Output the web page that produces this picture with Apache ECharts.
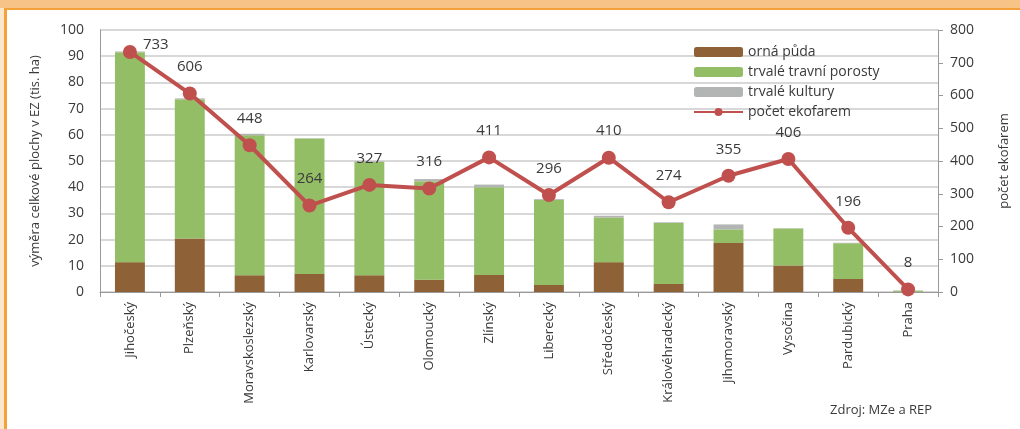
<!DOCTYPE html>
<html>
<head>
<meta charset="utf-8">
<script src="https://cdn.jsdelivr.net/npm/echarts@6/dist/echarts.min.js"></script>
<style>
  html, body { margin: 0; padding: 0; background: #fff; }
  #chart { width: 1020px; height: 429px; }
</style>
</head>
<body>
<div id="chart"></div>
<script>
const kraje = ['Jihočeský', 'Plzeňský', 'Moravskoslezský', 'Karlovarský', 'Ústecký', 'Olomoucký', 'Zlínský', 'Liberecký', 'Středočeský', 'Královéhradecký', 'Jihomoravský', 'Vysočina', 'Pardubický', 'Praha']
const ornaPuda = [11.4, 20.4, 6.4, 6.9, 6.4, 4.7, 6.5, 2.7, 11.4, 3.1, 18.7, 10.1, 5.0, 0.1]
const travniPorosty = [80.1, 53.2, 53.4, 51.7, 43.2, 37.6, 33.5, 32.5, 17.0, 23.2, 5.2, 14.1, 13.6, 0.4]
const trvaleKultury = [0.3, 0.3, 0.6, 0.1, 0.3, 0.8, 1.0, 0.3, 0.7, 0.3, 1.9, 0.1, 0.2, 0.1]
const pocetEkofarem = [733, 606, 448, 264, 327, 316, 411, 296, 410, 274, 355, 406, 196, 8]

const font = 'Open Sans'
const txt = '#3a3a3a'

const chart = echarts.init(document.getElementById('chart'))

const option = {
  animation: false,
  textStyle: {fontFamily: font},
  graphic: [
    {type: 'rect', shape: {x: 0, y: 0, width: 1020, height: 8}, style: {fill: '#F8C387'}},
    {type: 'rect', shape: {x: 4, y: 8, width: 1016, height: 2}, style: {fill: '#F5A13A'}},
    {type: 'rect', shape: {x: 0, y: 8, width: 4, height: 421}, style: {fill: '#FDE7CC'}},
    {type: 'rect', shape: {x: 4, y: 8, width: 3, height: 421}, style: {fill: '#F5A13A'}},
    {type: 'text', left: 830, top: 404, style: {text: 'Zdroj: MZe a REP', fill: txt, font: '13px "Open Sans"'}}
  ],
  grid: {
    left: 100,
    right: 82,
    top: 30,
    bottom: 137
  },
  legend: {
    orient: 'vertical',
    left: 688,
    top: 40,
    itemWidth: 49,
    itemHeight: 10,
    itemGap: 6,
    textStyle: {color: txt, fontSize: 14, fontFamily: font},
    data: ['orná půda', 'trvalé travní porosty', 'trvalé kultury', 'počet ekofarem']
  },
  xAxis: {
    type: 'category',
    data: kraje,
    axisLine: {lineStyle: {color: '#999', width: 1}},
    axisTick: {show: true, length: 5, interval: 0, lineStyle: {color: '#999'}},
    axisLabel: {rotate: 90, interval: 0, color: txt, fontSize: 13, margin: 10}
  },
  yAxis: [
    {
      type: 'value',
      min: 0,
      max: 100,
      interval: 10,
      name: 'výměra celkové plochy v EZ (tis. ha)',
      nameLocation: 'middle',
      nameGap: 58,
      nameTextStyle: {color: txt, fontSize: 13},
      axisLine: {show: true, lineStyle: {color: '#999'}},
      axisTick: {show: false},
      axisLabel: {color: txt, fontSize: 14, margin: 16},
      splitLine: {lineStyle: {color: '#CBCBCB', width: 1.5}}
    },
    {
      type: 'value',
      min: 0,
      max: 800,
      interval: 100,
      name: 'počet ekofarem',
      nameLocation: 'middle',
      nameGap: 60,
      nameTextStyle: {color: txt, fontSize: 13},
      axisLine: {show: true, lineStyle: {color: '#999'}},
      axisTick: {show: true, length: 5, lineStyle: {color: '#999'}},
      axisLabel: {color: txt, fontSize: 14, margin: 12},
      splitLine: {show: false}
    }
  ],
  series: [
    {
      name: 'orná půda',
      type: 'bar',
      stack: 'plocha',
      barWidth: '50%',
      data: ornaPuda,
      itemStyle: {color: '#8F6136'}
    },
    {
      name: 'trvalé travní porosty',
      type: 'bar',
      stack: 'plocha',
      data: travniPorosty,
      itemStyle: {color: '#93BE65'}
    },
    {
      name: 'trvalé kultury',
      type: 'bar',
      stack: 'plocha',
      data: trvaleKultury,
      itemStyle: {color: '#B3B5B5'}
    },
    {
      name: 'počet ekofarem',
      type: 'line',
      yAxisIndex: 1,
      data: pocetEkofarem.map((v, i) => i === 0
        ? {value: v, label: {position: 'right', distance: 6, offset: [0, -7]}}
        : v),
      symbol: 'circle',
      symbolSize: 14,
      z: 5,
      lineStyle: {color: '#C0504D', width: 4},
      itemStyle: {color: '#C0504D'},
      label: {show: true, position: 'top', distance: 12, color: txt, fontSize: 15}
    }
  ]
}

chart.setOption(option)
</script>
</body>
</html>
